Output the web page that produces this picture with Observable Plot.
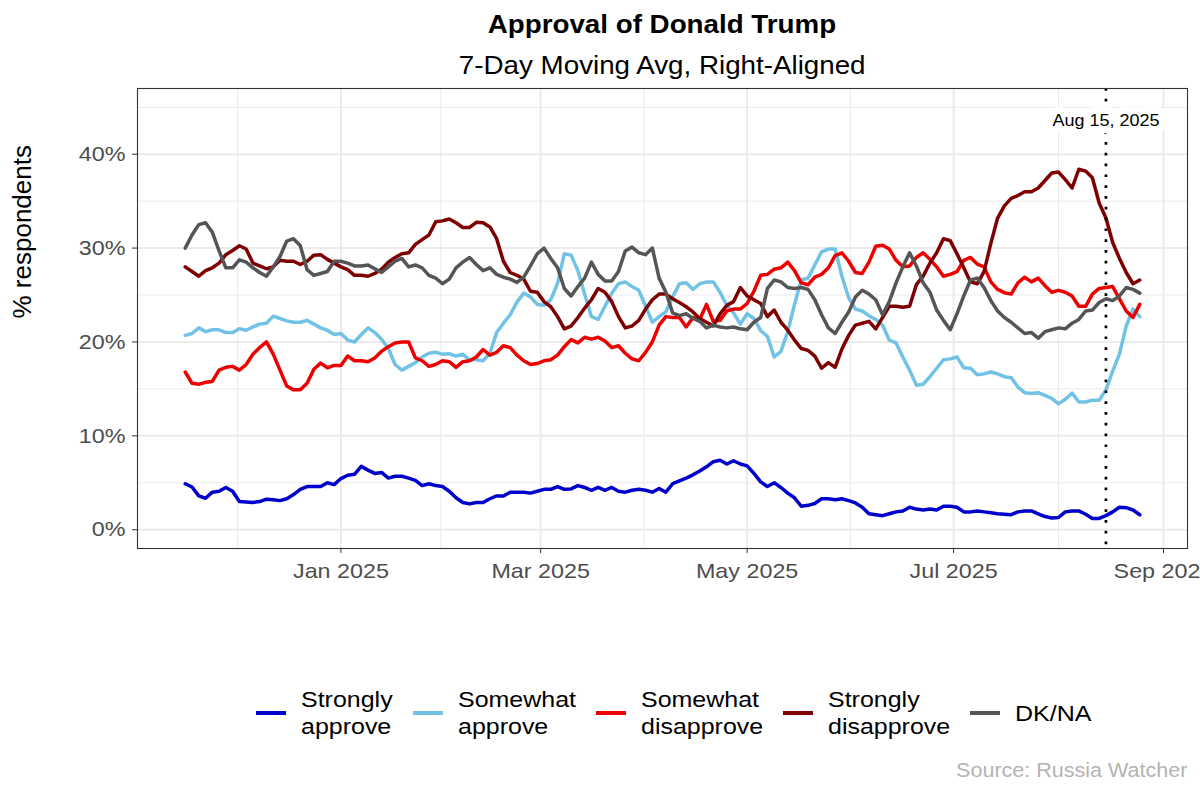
<!DOCTYPE html>
<html>
<head>
<meta charset="utf-8">
<script src="https://cdn.jsdelivr.net/npm/d3@7"></script>
<script src="https://cdn.jsdelivr.net/npm/@observablehq/plot@0.6"></script>
<style>
  body { margin: 0; background: #fff; font-family: "Liberation Sans", Arial, Helvetica, sans-serif; }
  #wrap { position: relative; width: 1200px; height: 793px; overflow: hidden; background: #fff; }
  .hdr { position: absolute; left: 137px; width: 1050px; text-align: center; color: #000; white-space: nowrap; }
  .hdr span { display: inline-block; }
  #title { top: 11.5px; font-size: 25px; line-height: 25px; font-weight: bold; }
  #subtitle { top: 52.8px; font-size: 25px; line-height: 25px; }
  #chart { position: absolute; left: 0; top: 80px; }
  #legend { position: absolute; left: 256px; top: 686px; height: 54px; display: flex; align-items: center; }
  .item { display: flex; align-items: center; margin-right: 20px; }
  .key { width: 30px; height: 4.5px; margin-right: 15px; flex: none; }
  .lab { font-size: 22.5px; line-height: 27px; color: #000; white-space: nowrap; }
  #caption { position: absolute; right: 13px; top: 760.5px; font-size: 19.4px; line-height: 19.4px; color: #B3B3B3; white-space: nowrap; }
</style>
</head>
<body>
<div id="wrap">
  <div id="title" class="hdr"><span>Approval of Donald Trump</span></div>
  <div id="subtitle" class="hdr"><span>7-Day Moving Avg, Right-Aligned</span></div>
  <div id="chart"></div>
  <div id="legend"></div>
  <div id="caption"><span>Source: Russia Watcher</span></div>
</div>
<script>
// ---------- data (7-day moving averages, %; every 2nd day) ----------
const dates = [
"2024-11-16","2024-11-18","2024-11-20","2024-11-22","2024-11-24","2024-11-26","2024-11-28","2024-11-30",
"2024-12-02","2024-12-04","2024-12-06","2024-12-08","2024-12-10","2024-12-12","2024-12-14","2024-12-16","2024-12-18","2024-12-20","2024-12-22","2024-12-24","2024-12-26","2024-12-28","2024-12-30",
"2025-01-01","2025-01-03","2025-01-05","2025-01-07","2025-01-09","2025-01-11","2025-01-13","2025-01-15","2025-01-17","2025-01-19","2025-01-21","2025-01-23","2025-01-25","2025-01-27","2025-01-29","2025-01-31",
"2025-02-02","2025-02-04","2025-02-06","2025-02-08","2025-02-10","2025-02-12","2025-02-14","2025-02-16","2025-02-18","2025-02-20","2025-02-22","2025-02-24","2025-02-26","2025-02-28",
"2025-03-02","2025-03-04","2025-03-06","2025-03-08","2025-03-10","2025-03-12","2025-03-14","2025-03-16","2025-03-18","2025-03-20","2025-03-22","2025-03-24","2025-03-26","2025-03-28","2025-03-30",
"2025-04-01","2025-04-03","2025-04-05","2025-04-07","2025-04-09","2025-04-11","2025-04-13","2025-04-15","2025-04-17","2025-04-19","2025-04-21","2025-04-23","2025-04-25","2025-04-27","2025-04-29",
"2025-05-01","2025-05-03","2025-05-05","2025-05-07","2025-05-09","2025-05-11","2025-05-13","2025-05-15","2025-05-17","2025-05-19","2025-05-21","2025-05-23","2025-05-25","2025-05-27","2025-05-29","2025-05-31",
"2025-06-02","2025-06-04","2025-06-06","2025-06-08","2025-06-10","2025-06-12","2025-06-14","2025-06-16","2025-06-18","2025-06-20","2025-06-22","2025-06-24","2025-06-26","2025-06-28","2025-06-30",
"2025-07-02","2025-07-04","2025-07-06","2025-07-08","2025-07-10","2025-07-12","2025-07-14","2025-07-16","2025-07-18","2025-07-20","2025-07-22","2025-07-24","2025-07-26","2025-07-28","2025-07-30",
"2025-08-01","2025-08-03","2025-08-05","2025-08-07","2025-08-09","2025-08-11","2025-08-13","2025-08-15","2025-08-17","2025-08-19","2025-08-21","2025-08-23","2025-08-25"];

const stronglyApprove = [
4.9,4.55,3.6,3.35,4.0,4.1,4.5,4.1,3.0,2.95,2.9,3.0,3.25,3.2,3.1,3.3,3.75,4.3,4.6,4.6,4.6,5.0,4.8,5.45,
5.8,5.9,6.75,6.35,6.0,6.1,5.5,5.7,5.7,5.5,5.25,4.7,4.9,4.7,4.6,4.1,3.4,2.9,2.75,2.9,2.9,3.3,3.6,3.6,4.0,4.0,
4.0,3.9,4.1,4.3,4.3,4.6,4.3,4.35,4.7,4.5,4.2,4.5,4.2,4.5,4.1,4.0,4.2,4.3,4.2,4.0,4.4,4.0,4.9,5.2,5.5,5.85,
6.25,6.7,7.25,7.4,7.0,7.35,7.0,6.8,6.0,5.1,4.6,5.0,4.5,3.9,3.4,2.5,2.6,2.8,3.3,3.3,3.2,3.3,3.1,2.85,
2.4,1.7,1.6,1.5,1.7,1.9,2.0,2.4,2.2,2.1,2.2,2.1,2.5,2.5,2.4,1.9,1.9,2.0,1.9,1.8,1.7,1.65,1.6,1.9,
2.0,2.0,1.7,1.4,1.25,1.3,1.9,2.0,2.0,1.65,1.2,1.2,1.5,1.9,2.4,2.35,2.1,1.6];

const somewhatApprove = [
20.7,20.9,21.5,21.1,21.3,21.3,21.0,21.0,21.4,21.25,21.6,21.9,22.0,22.75,22.5,22.25,22.1,22.1,22.3,21.9,21.5,21.25,20.8,20.9,
20.2,20.0,20.8,21.5,21.0,20.3,19.3,17.6,17.0,17.4,17.8,18.4,18.8,18.9,18.7,18.75,18.5,18.7,18.1,18.1,18.0,18.8,21.0,22.0,22.9,24.25,
25.2,24.8,24.0,23.9,24.5,26.25,29.4,29.25,27.6,25.1,22.7,22.4,23.8,25.2,26.2,26.4,25.9,25.5,23.8,22.1,22.7,23.2,24.8,26.2,26.3,25.6,
26.2,26.4,26.4,25.3,23.9,23.1,21.9,23.0,22.5,21.2,20.6,18.4,19.0,21.1,24.0,26.6,26.8,28.2,29.6,29.9,29.9,27.0,24.7,23.5,
23.3,22.8,22.4,21.8,20.2,19.9,18.4,17.0,15.4,15.5,16.3,17.2,18.1,18.2,18.4,17.25,17.2,16.5,16.6,16.8,16.6,16.3,16.2,15.2,
14.6,14.5,14.6,14.3,14.0,13.4,13.9,14.55,13.6,13.6,13.8,13.8,14.9,16.9,18.7,21.7,23.5,22.7];

const somewhatDisapprove = [
16.8,15.6,15.5,15.7,15.8,17.0,17.3,17.4,17.0,17.6,18.7,19.4,20.0,18.7,17.0,15.3,14.9,14.9,15.6,17.1,17.75,17.25,17.5,17.5,
18.5,18.0,18.0,17.9,18.3,19.0,19.5,19.9,20.0,20.0,18.3,18.0,17.4,17.6,18.0,17.9,17.3,17.9,18.0,18.4,19.2,18.6,18.9,19.6,19.4,18.6,
18.0,17.6,17.7,18.0,18.1,18.6,19.5,20.25,19.9,20.5,20.3,20.5,20.1,19.4,19.6,18.8,18.2,18.0,18.9,20.0,21.8,22.7,22.6,22.6,21.6,22.6,
22.4,24.0,22.2,22.3,23.3,23.5,23.5,24.1,25.4,27.1,27.2,27.75,27.9,28.5,27.6,26.3,26.1,26.9,27.2,27.9,29.2,29.5,28.6,27.4,
27.3,28.5,30.2,30.3,29.9,28.7,28.0,28.1,29.0,29.5,28.8,28.0,27.0,27.2,27.5,28.7,29.0,28.3,28.0,26.4,25.6,25.25,25.1,26.3,
26.9,26.4,26.8,26.0,25.3,25.5,25.3,24.9,23.8,23.8,25.1,25.7,25.8,25.9,24.6,23.3,22.6,24.0];

const stronglyDisapprove = [
28.0,27.5,27.0,27.6,27.9,28.4,29.3,29.75,30.25,29.9,28.4,28.1,27.8,28.0,28.7,28.6,28.6,28.25,28.6,29.25,29.3,28.8,28.4,28.0,
27.7,27.1,27.1,27.0,27.3,27.75,28.5,29.0,29.4,29.5,30.4,30.9,31.4,32.8,32.9,33.1,32.7,32.2,32.2,32.75,32.7,32.25,31.0,28.6,27.4,27.1,
26.7,25.4,25.3,24.3,23.75,22.7,21.4,21.7,22.6,23.6,24.5,25.7,25.3,24.3,22.7,21.5,21.7,22.3,23.5,24.5,25.1,25.1,24.6,24.2,23.75,23.2,
22.5,22.1,21.7,23.0,23.9,24.3,25.8,24.9,24.5,24.1,22.7,23.4,22.1,21.25,20.2,19.3,19.1,18.5,17.2,17.8,17.3,19.25,20.7,21.8,
22.0,22.2,21.4,22.6,23.8,23.8,23.7,23.8,26.1,27.0,28.4,29.5,31.0,30.8,29.4,27.9,26.4,26.2,27.5,30.5,33.2,34.5,35.3,35.6,
36.0,36.0,36.4,37.2,38.0,38.1,37.3,36.4,38.4,38.2,37.5,34.8,33.2,30.6,28.9,27.4,26.2,26.6];

const dkna = [
30.0,31.4,32.5,32.7,31.7,29.7,27.9,27.9,28.75,28.5,27.9,27.4,27.0,28.0,29.1,30.75,31.0,30.25,27.7,27.1,27.3,27.5,28.6,28.6,
28.4,28.1,28.1,28.2,27.8,27.4,28.0,28.6,28.9,28.0,28.2,27.9,27.1,26.8,26.2,26.7,27.9,28.5,29.0,28.25,27.6,27.9,27.2,26.9,26.7,26.35,
26.9,28.1,29.4,30.0,28.9,27.9,25.7,24.9,25.9,26.8,28.5,27.2,26.5,26.5,27.5,29.7,30.1,29.5,29.3,30.0,26.8,25.3,23.1,22.8,23.0,22.5,
22.2,21.5,21.8,21.6,21.5,21.6,21.4,21.3,22.1,22.6,25.7,26.6,26.4,25.8,25.7,25.8,25.6,24.5,22.9,21.5,20.9,22.1,23.2,24.8,
25.5,25.1,24.5,22.9,24.3,26.3,28.0,29.5,28.1,26.3,25.3,23.4,22.3,21.3,23.0,24.9,26.6,26.8,25.8,24.4,23.3,22.6,22.1,21.5,
20.9,21.0,20.4,21.1,21.3,21.5,21.4,22.0,22.4,23.3,23.4,24.2,24.6,24.4,24.9,25.8,25.6,25.2];

const seriesNames = ["Strongly approve", "Somewhat approve", "Somewhat disapprove", "Strongly disapprove", "DK/NA"];
const legendLabels = [["Strongly", "approve"], ["Somewhat", "approve"], ["Somewhat", "disapprove"], ["Strongly", "disapprove"], ["DK/NA"]];
const seriesValues = [stronglyApprove, somewhatApprove, somewhatDisapprove, stronglyDisapprove, dkna];

// tick labels / breaks
const yMajor = [0, 10, 20, 30, 40];
const yMinor = [5, 15, 25, 35, 45];
const xMajor = ["2025-01-01", "2025-03-01", "2025-05-01", "2025-07-01", "2025-09-01"];
const xMinor = ["2024-12-01T12:00Z", "2025-01-30T12:00Z", "2025-03-31T12:00Z", "2025-05-31T12:00Z", "2025-08-01T00:00Z"];
const annotations = [{date: "2025-08-15", label: "Aug 15, 2025"}];

// ---------- styles ----------
const seriesColors = ["#0000CD", "#72C2E6", "#EE0000", "#7E0000", "#555555"];
const STRETCH = 1.11;

// ---------- build ----------
const rows = seriesNames.flatMap((s, i) => seriesValues[i].map((v, j) => ({series: s, date: new Date(dates[j]), value: v})));
const annot = annotations.map(d => ({date: new Date(d.date), label: d.label}));
const xMajorD = xMajor.map(d => new Date(d));
const xMinorD = xMinor.map(d => new Date(d));

const grid = "#EBEBEB";
const plot = Plot.plot({
  width: 1200,
  height: 540,
  marginLeft: 137,
  marginRight: 13,
  marginTop: 8,
  marginBottom: 72,
  style: {fontFamily: '"Liberation Sans", Arial, Helvetica, sans-serif', background: "#fff", color: "#4D4D4D"},
  x: {type: "utc", domain: [new Date("2024-11-01T21:36Z"), new Date("2025-09-08T02:24Z")]},
  y: {domain: [-2, 47]},
  color: {domain: seriesNames, range: seriesColors},
  marks: [
    Plot.ruleY(yMinor, {stroke: grid, strokeWidth: 1}),
    Plot.ruleX(xMinorD, {stroke: grid, strokeWidth: 1}),
    Plot.ruleY(yMajor, {stroke: grid, strokeWidth: 2}),
    Plot.ruleX(xMajorD, {stroke: grid, strokeWidth: 2}),
    Plot.line(rows, {x: "date", y: "value", z: "series", stroke: "series", strokeWidth: 3.5, strokeLinejoin: "round"}),
    Plot.ruleX(annot, {x: "date", stroke: "#000", strokeWidth: 2.7, strokeDasharray: "2.7,8.1"}),
    Plot.text(annot, {x: "date", text: "label", frameAnchor: "top", dy: 26, fontSize: 16.2, fill: "#000", stroke: "#fff", strokeWidth: 14, strokeLinejoin: "round"}),
    Plot.frame({stroke: "#333", strokeWidth: 1.1}),
    Plot.axisY(yMajor, {tickSize: 5, tickPadding: 7, tickFormat: d => d + "%", fontSize: 21, fill: "#4D4D4D", stroke: "#333", label: null}),
    Plot.axisX(xMajorD, {tickSize: 5, tickPadding: 10, tickFormat: d3.utcFormat("%b %Y"), fontSize: 21, fill: "#4D4D4D", stroke: "#333", label: null}),
    Plot.text(["% respondents"], {text: d => d, frameAnchor: "left", dx: -115, rotate: -90, fontSize: 26, fill: "#000"})
  ]
});
document.getElementById("chart").appendChild(plot);

// widen SVG text horizontally to match the reference's proportions
plot.querySelectorAll("text").forEach(t => {
  if (t.textContent === "% respondents") return;
  const len = t.getComputedTextLength();
  if (len > 0) {
    t.setAttribute("textLength", (len * STRETCH).toFixed(2));
    t.setAttribute("lengthAdjust", "spacingAndGlyphs");
  }
});

// legend
const legend = document.getElementById("legend");
seriesNames.forEach((s, i) => {
  const item = document.createElement("div");
  item.className = "item";
  const key = document.createElement("div");
  key.className = "key";
  key.style.background = seriesColors[i];
  const lab = document.createElement("span");
  lab.className = "lab";
  lab.innerHTML = legendLabels[i].join("<br>");
  item.appendChild(key);
  item.appendChild(lab);
  legend.appendChild(item);
});

function stretchBox(el, origin) {
  el.style.display = "inline-block";
  const w = el.getBoundingClientRect().width;
  el.style.width = (w * STRETCH) + "px";
  el.style.transformOrigin = origin;
  el.style.transform = `scaleX(${STRETCH})`;
}
document.querySelectorAll(".lab").forEach(el => stretchBox(el, "0 50%"));
document.querySelectorAll(".hdr span").forEach(el => { el.style.transform = `scaleX(${STRETCH})`; });
const cap = document.querySelector("#caption span");
cap.style.display = "inline-block";
cap.style.transformOrigin = "100% 50%";
cap.style.transform = `scaleX(${STRETCH})`;
</script>
</body>
</html>
